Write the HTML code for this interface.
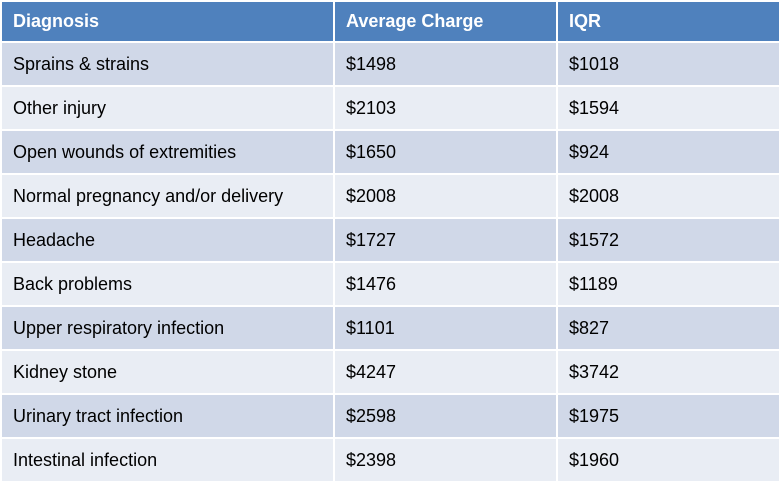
<!DOCTYPE html>
<html><head><style>
html,body{margin:0;padding:0;background:#fff;}
table{position:absolute;left:0;top:0;width:781px;border-collapse:collapse;font-family:"Liberation Sans",sans-serif;font-size:18px;color:#000;}
td,th{border:2px solid #fff;padding:0 0 0 11px;text-align:left;height:42px;}
th{background:#4F81BD;color:#fff;font-weight:bold;height:39px;}
tr:nth-child(even) td{background:#D0D8E8;}
tr:nth-child(odd) td{background:#E9EDF4;}
col.a{width:333px}col.b{width:223px}
</style></head><body>
<table>
<colgroup><col class="a"><col class="b"><col></colgroup>
<tr><th>Diagnosis</th><th>Average Charge</th><th>IQR</th></tr>
<tr><td>Sprains &amp; strains</td><td>$1498</td><td>$1018</td></tr>
<tr><td>Other injury</td><td>$2103</td><td>$1594</td></tr>
<tr><td>Open wounds of extremities</td><td>$1650</td><td>$924</td></tr>
<tr><td>Normal pregnancy and/or delivery</td><td>$2008</td><td>$2008</td></tr>
<tr><td>Headache</td><td>$1727</td><td>$1572</td></tr>
<tr><td>Back problems</td><td>$1476</td><td>$1189</td></tr>
<tr><td>Upper respiratory infection</td><td>$1101</td><td>$827</td></tr>
<tr><td>Kidney stone</td><td>$4247</td><td>$3742</td></tr>
<tr><td>Urinary tract infection</td><td>$2598</td><td>$1975</td></tr>
<tr><td>Intestinal infection</td><td>$2398</td><td>$1960</td></tr>
</table>
</body></html>
